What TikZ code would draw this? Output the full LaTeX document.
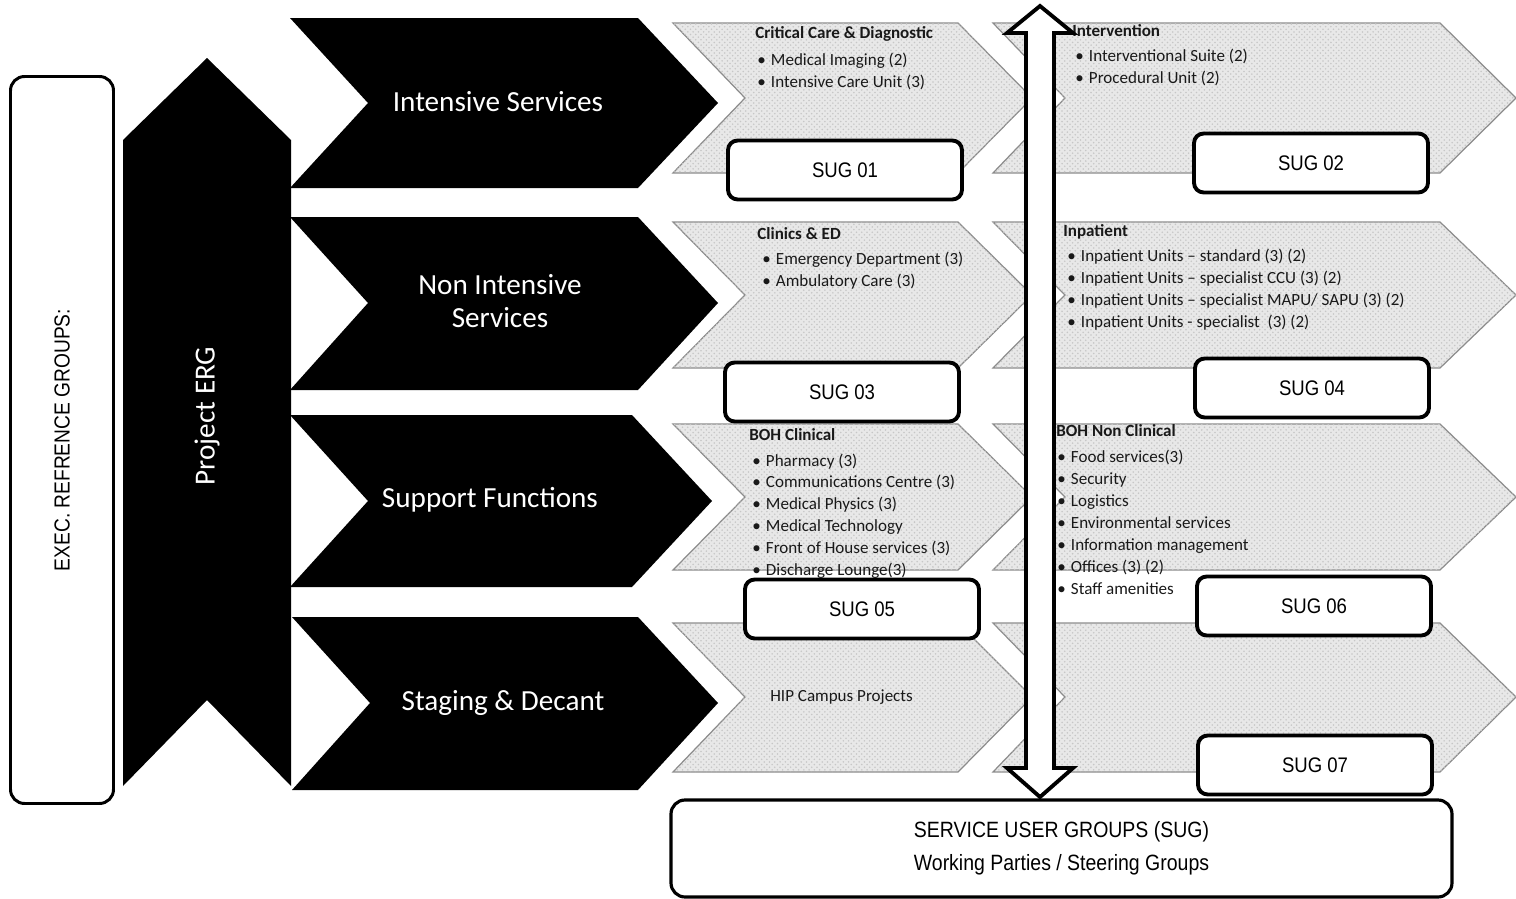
\documentclass[tikz,border=0pt]{standalone}
\usepackage{fontspec}
\setmainfont{Carlito}
\newfontfamily\arialn[FakeStretch=0.88]{Liberation Sans}
\usetikzlibrary{patterns}

% chevron outline: style, left x, notch x, body right x, tip x, top y, middle y, bottom y
\newcommand{\chevshape}[8]{%
  \path[#1] (#2,#6) -- (#4,#6) -- (#5,#7) -- (#4,#8) -- (#2,#8) -- (#3,#7) -- cycle;}
% a column of list lines: name, x, first baseline, step, items
\newcommand{\itemcol}[5]{%
  \foreach \t [count=\i] in {#5} {\node[itm] (#1-\i) at (#2,{#3+#4*(\i-1)}) {\t};}}
\newcommand{\bul}{\textbullet\hspace{0.3em}}

\begin{document}
\begin{tikzpicture}[x=0.02cm,y=-0.02cm,
  blackchev/.style={fill=black},
  greychev/.style={fill=black!9, draw=black!45, line width=0.7pt,
    postaction={pattern=crosshatch dots, pattern color=black!22}},
  chevlabel/.style={text=white, align=center, font=\fontsize{16.6}{18.7}\selectfont},
  hdr/.style={anchor=base west, inner sep=0pt, text=black!90,
    font=\fontsize{9.7}{12}\selectfont\bfseries},
  itm/.style={anchor=base west, inner sep=0pt, text=black!90,
    font=\fontsize{9.7}{12}\selectfont},
  sugbox/.style={draw=black, fill=white, line width=2.2pt, rounded corners=5.5pt,
    minimum width=234*0.02cm, minimum height=59*0.02cm,
    font=\arialn\fontsize{12}{14}\selectfont},
  framebox/.style={draw=black, fill=white, rounded corners=8pt},
  dblarrow/.style={draw=black, fill=white, line width=2.2pt, line join=miter},
]
\fill[white] (0,0) rectangle (1516,899);
\useasboundingbox (0,0) rectangle (1516,899);

% executive reference groups frame
\node[framebox, line width=1.7pt, rotate=90,
  minimum width=727*0.02cm, minimum height=103*0.02cm,
  font=\arialn\fontsize{12.4}{14}\selectfont] (exec) at (62,440) {EXEC. REFRENCE GROUPS:};

% project ERG column
\fill[black] (123,140) -- (207,58) -- (291,140) -- (291,786) -- (207,700) -- (123,786) -- cycle;
\node[rotate=90, text=white, font=\fontsize{16.6}{20}\selectfont] (erg) at (207,416) {Project ERG};

% grey service chevrons
\chevshape{greychev}{673}{745}{958}{1032}{23}{98}{173}
\chevshape{greychev}{993}{1065}{1440}{1516}{23}{98}{173}
\chevshape{greychev}{673}{745}{958}{1032}{222}{295}{368}
\chevshape{greychev}{993}{1065}{1440}{1516}{222}{295}{368}
\chevshape{greychev}{673}{745}{958}{1032}{424}{497}{570}
\chevshape{greychev}{993}{1065}{1440}{1516}{424}{497}{570}
\chevshape{greychev}{673}{745}{958}{1032}{623}{697}{772}
\chevshape{greychev}{993}{1065}{1440}{1516}{623}{697}{772}

% black stream chevrons
\chevshape{blackchev}{290}{368}{638}{718}{18}{103}{188}
\chevshape{blackchev}{290}{368}{638}{718}{217}{303}{390}
\chevshape{blackchev}{290}{368}{632}{712}{415}{501}{587}
\chevshape{blackchev}{292}{370}{638}{718}{617}{703}{790}
\node[chevlabel] (s1) at (498,102) {Intensive Services};
\node[chevlabel] (s2) at (500,301) {Non Intensive\\Services};
\node[chevlabel] (s3) at (490,500) {Support Functions};
\node[chevlabel] (s4) at (503,703) {Staging \& Decant};

% service lists
\node[hdr] (r1a-h) at (755,38) {Critical Care \& Diagnostic};
\itemcol{r1a}{757}{65}{22}{\bul Medical Imaging (2), \bul Intensive Care Unit (3)}
\node[hdr] (r1b-h) at (1072,36) {Intervention};
\itemcol{r1b}{1075}{61}{22}{\bul Interventional Suite (2), \bul Procedural Unit (2)}
\node[hdr] (r2a-h) at (757,239) {Clinics \& ED};
\itemcol{r2a}{762}{264}{22}{\bul Emergency Department (3), \bul Ambulatory Care (3)}
\node[hdr] (r2b-h) at (1063,236) {Inpatient};
\itemcol{r2b}{1067}{261}{22}{\bul Inpatient Units -- standard (3) (2),
  \bul Inpatient Units -- specialist CCU (3) (2),
  \bul Inpatient Units -- specialist MAPU/ SAPU (3) (2),
  \bul Inpatient Units - specialist \ (3) (2)}
\node[hdr] (r3a-h) at (749,440) {BOH Clinical};
\itemcol{r3a}{752}{466}{21.9}{\bul Pharmacy (3), \bul Communications Centre (3),
  \bul Medical Physics (3), \bul Medical Technology,
  \bul Front of House services (3), \bul Discharge Lounge(3)}
\node[hdr] (r3b-h) at (1056,436) {BOH Non Clinical};
\itemcol{r3b}{1057}{462}{22.1}{\bul Food services(3), \bul Security, \bul Logistics,
  \bul Environmental services, \bul Information management,
  \bul Offices (3) (2), \bul Staff amenities}
\node[itm] (r4a) at (770,701) {HIP Campus Projects};

% two-way arrow between the streams and the user groups
\coordinate (arrtop) at (1040,6);
\coordinate (arrbot) at (1040,797);
\draw[dblarrow] (arrtop) -- ++(33,27) -- ++(-19,0) -- (1054,768) -- ++(19,0)
  -- (arrbot) -- ++(-33,-29) -- ++(19,0) -- (1026,33) -- ++(-19,0) -- cycle;

% service user group boxes
\node[sugbox] (sug01) at (845,170) {SUG 01};
\node[sugbox] (sug02) at (1311,163) {SUG 02};
\node[sugbox] (sug03) at (842,392) {SUG 03};
\node[sugbox] (sug04) at (1312,388) {SUG 04};
\node[sugbox] (sug05) at (862,609) {SUG 05};
\node[sugbox] (sug06) at (1314,606) {SUG 06};
\node[sugbox] (sug07) at (1315,765) {SUG 07};

\node[framebox, line width=1.8pt, minimum width=781*0.02cm, minimum height=97*0.02cm,
  align=center, font=\arialn\fontsize{12.6}{18.7}\selectfont] (sugall) at (1061.5,848.5)
  {SERVICE USER GROUPS (SUG)\\Working Parties / Steering Groups};
\end{tikzpicture}
\end{document}
